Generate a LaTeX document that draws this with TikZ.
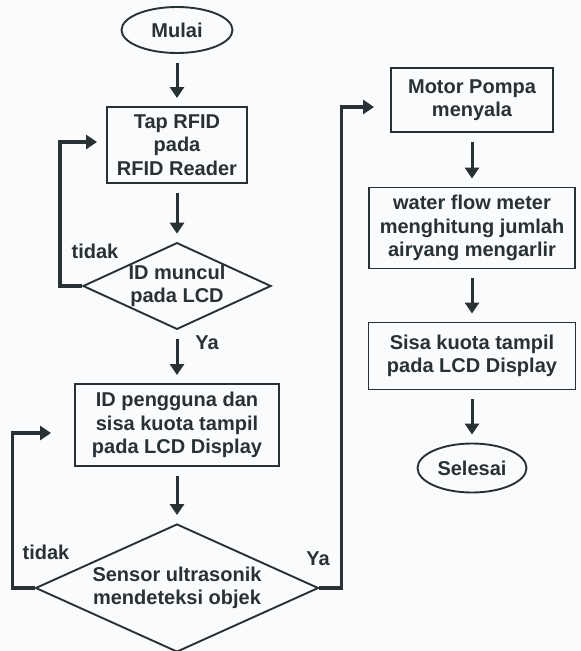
\documentclass[tikz,border=0pt]{standalone}
\usepackage{fontspec}
\setmainfont{Liberation Sans}
\usetikzlibrary{shapes.geometric,arrows.meta}
\definecolor{ink}{HTML}{283236}
\definecolor{paper}{HTML}{FAFBFC}

\begin{document}
\begin{tikzpicture}
[ x=1pt, y=-1pt, ink, text=ink
, every node/.style={font=\bfseries\fontsize{20}{23.5}\selectfont, align=center}
, terminus/.style={ellipse, draw, line width=1.9pt, inner sep=0pt}
, process/.style={rectangle, draw, line width=1.9pt, inner sep=0pt}
, decision/.style={diamond, draw, line width=1.9pt, inner sep=0pt}
, flow/.style={line width=3pt, -{Triangle[width=14pt,length=11pt]}, shorten <=9pt, shorten >=8pt}
, backline/.style={line width=3.2pt, -{Triangle[width=14pt,length=11pt]}}
]
\fill [paper] (0,0) rectangle (581,651);
\useasboundingbox (0,0) rectangle (581,651);
% Left column:
\node (start) [terminus, minimum width=111pt, minimum height=46pt] at (177,30) {Mulai};
\node (tap) [process, minimum width=140pt, minimum height=76pt] at (177,145) {Tap RFID\\pada\\RFID Reader};
\node (idcheck) [decision, minimum width=187pt, minimum height=86pt, aspect=2.17] at (177,286) {ID muncul\\pada LCD};
\node (quota) [process, minimum width=204pt, minimum height=82pt] at (177,425) {ID pengguna dan\\sisa kuota tampil\\pada LCD Display};
\node (sensor) [decision, minimum width=283pt, minimum height=128pt, aspect=2.21] at (177,588) {Sensor ultrasonik\\mendeteksi objek};
% Right column:
\node (pump) [process, minimum width=162pt, minimum height=64pt] at (472,100) {Motor Pompa\\menyala};
\node (meter) [process, minimum width=206pt, minimum height=81pt] at (472,228) {water flow meter\\menghitung jumlah\\airyang mengarlir};
\node (rest) [process, minimum width=207pt, minimum height=67pt] at (472,356) {Sisa kuota tampil\\pada LCD Display};
\node (finish) [terminus, minimum width=109pt, minimum height=49pt] at (472,468) {Selesai};
% Labels:
\node (no1) at (95,251) {tidak};
\node (yes1) at (207,343) {Ya};
\node (no2) at (46,552) {tidak};
\node (yes2) at (318,559) {Ya};
\draw [flow] (start) -- (tap);
\draw [flow] (tap) -- (idcheck);
\draw [flow] (idcheck) -- (quota);
\draw [flow] (quota) -- (sensor);
\draw [flow] (pump) -- (meter);
\draw [flow] (meter) -- (rest);
\draw [flow] (rest) -- (finish);
\draw [backline, shorten >=9pt] (idcheck.west) -- ++(-22,0) |- ([yshift=3pt]tap.west);
\draw [backline, shorten >=23pt] (sensor.west) -- ++(-22,0) |- ([yshift=-8pt]quota.west);
\draw [backline, shorten >=16pt] (sensor.east) -- ++(22,0) |- ([yshift=-7pt]pump.west);
\end{tikzpicture}
\end{document}
